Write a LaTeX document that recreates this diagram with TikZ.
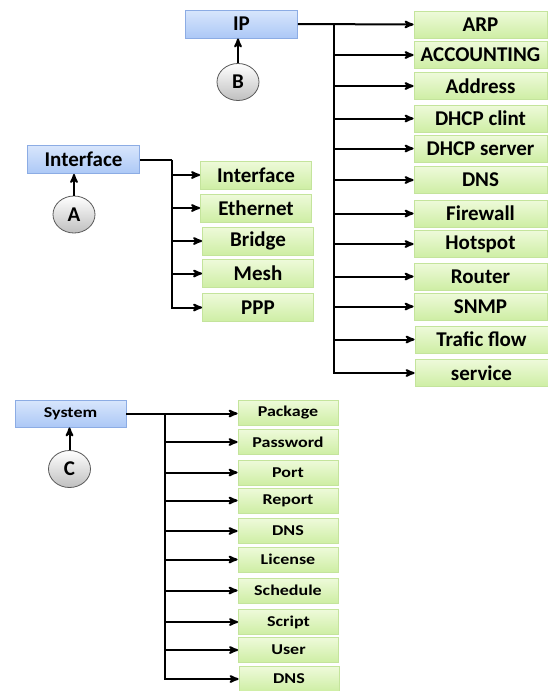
\documentclass[tikz,border=0pt]{standalone}
\usepackage{fontspec}
\setmainfont{Carlito}
\newfontfamily\widefont[FakeStretch=1.2]{Carlito}
\usepackage{tikz}
\usetikzlibrary{arrows, shapes}

\definecolor{leafTop}{RGB}{238,250,218}
\definecolor{leafBot}{RGB}{206,238,164}
\definecolor{leafLine}{RGB}{196,228,156}
\definecolor{rootTop}{RGB}{216,230,252}
\definecolor{rootBot}{RGB}{172,200,246}
\definecolor{rootLine}{RGB}{140,172,228}

\begin{document}
\begin{tikzpicture}[x=1pt, y=-1pt, >=stealth',
  root/.style={rectangle, draw=rootLine, line width=0.8pt, top color=rootTop,
    bottom color=rootBot, minimum width=112pt, minimum height=28pt, inner sep=0pt,
    font=\bfseries\fontsize{21}{21}\selectfont},
  %
  leaf/.style={rectangle, draw=leafLine, line width=0.8pt, top color=leafTop,
    bottom color=leafBot, minimum width=133pt, minimum height=27pt, inner sep=0pt,
    font=\bfseries\fontsize{21}{21}\selectfont},
  %
  midleaf/.style={leaf, minimum width=111pt, minimum height=28pt},
  %
  smallleaf/.style={leaf, minimum width=100pt, minimum height=25pt,
    font=\widefont\bfseries\fontsize{15}{15}\selectfont},
  %
  smallroot/.style={root, minimum width=111pt, minimum height=27pt,
    font=\widefont\bfseries\fontsize{15}{15}\selectfont},
  %
  tag/.style={ellipse, draw=black!65, line width=0.8pt, top color=white,
    bottom color=gray!50, minimum width=42pt, minimum height=37pt, inner sep=0pt,
    font=\bfseries\fontsize{21}{21}\selectfont},
  %
  link/.style={line width=2pt}
  ]

  \useasboundingbox (0,0) rectangle (547,691);

  \begin{scope}
    %%%%%%%%%%%%%%%%%%%%%%%%%%%%%%% IP
    \node [root] (ip) at (241.5,24) {IP};
    \node [tag] (tagB) at (238,82) {B};
    \node [leaf] (arp) at (480.5,24.5) {ARP};
    \node [leaf] (acct) at (480.5,55) {ACCOUNTING};
    \node [leaf] (addr) at (480.5,86) {Address};
    \node [leaf] (dhcpc) at (480.5,118.5) {DHCP clint};
    \node [leaf] (dhcps) at (480.5,148.5) {DHCP server};
    \node [leaf] (dnsip) at (480.5,180) {DNS};
    \node [leaf] (fw) at (480.5,213.5) {Firewall};
    \node [leaf] (hot) at (480.5,244) {Hotspot};
    \node [leaf] (rtr) at (480.5,276.5) {Router};
    \node [leaf] (snmp) at (480.5,306.5) {SNMP};
    \node [leaf] (tf) at (481.5,339.5) {Trafic flow};
    \node [leaf] (srv) at (481.5,373) {service};
    \coordinate (ipbus) at (334,24);
    %%%%%%%%%%%%%%%%%%%%%%%%%%%%%%% Interface
    \node [root] (iface) at (83.5,159.5) {Interface};
    \node [tag] (tagA) at (74,214.5) {A};
    \node [midleaf] (ifc) at (256,175) {Interface};
    \node [midleaf] (eth) at (256,208) {Ethernet};
    \node [midleaf] (brg) at (258,241) {Bridge};
    \node [midleaf] (mesh) at (258,273.5) {Mesh};
    \node [midleaf] (ppp) at (258,307.5) {PPP};
    \coordinate (ifbus) at (172,159.5);
    %%%%%%%%%%%%%%%%%%%%%%%%%%%%%%% System
    \node [smallroot] (sys) at (70.5,413.5) {System};
    \node [tag] (tagC) at (69.5,469) {C};
    \node [smallleaf] (pkg) at (288,412.5) {Package};
    \node [smallleaf] (pwd) at (288,442) {Password};
    \node [smallleaf] (port) at (288,472.5) {Port};
    \node [smallleaf] (rep) at (288,500.5) {Report};
    \node [smallleaf] (dnssys) at (288,531) {DNS};
    \node [smallleaf] (lic) at (288,559.5) {License};
    \node [smallleaf] (sch) at (288,590.5) {Schedule};
    \node [smallleaf] (scr) at (288.5,622) {Script};
    \node [smallleaf] (usr) at (288.5,650) {User};
    \node [smallleaf] (dnslast) at (289,679) {DNS};
    \coordinate (sysbus) at (165,413.5);
  \end{scope}

  \begin{scope}[link]
    % IP tree
    \draw [->] (tagB.north) -- (tagB.north |- ip.south);
    \draw [->] (ip.east) -- (arp.west);
    \draw [->] (ipbus) |- (srv.west);
    \draw [->] (ipbus |- acct.west) -- (acct.west);
    \draw [->] (ipbus |- addr.west) -- (addr.west);
    \draw [->] (ipbus |- dhcpc.west) -- (dhcpc.west);
    \draw [->] (ipbus |- dhcps.west) -- (dhcps.west);
    \draw [->] (ipbus |- dnsip.west) -- (dnsip.west);
    \draw [->] (ipbus |- fw.west) -- (fw.west);
    \draw [->] (ipbus |- hot.west) -- (hot.west);
    \draw [->] (ipbus |- rtr.west) -- (rtr.west);
    \draw [->] (ipbus |- snmp.west) -- (snmp.west);
    \draw [->] (ipbus |- tf.west) -- (tf.west);
    % Interface tree
    \draw [->] (tagA.north) -- (tagA.north |- iface.south);
    \draw (iface.east) -- (ifbus);
    \draw [->] (ifbus) |- (ppp.west);
    \draw [->] (ifbus |- ifc.west) -- (ifc.west);
    \draw [->] (ifbus |- eth.west) -- (eth.west);
    \draw [->] (ifbus |- brg.west) -- (brg.west);
    \draw [->] (ifbus |- mesh.west) -- (mesh.west);
    % System tree
    \draw [->] (tagC.north) -- (tagC.north |- sys.south);
    \draw [->] (sys.east) -- (pkg.west |- sys.east);
    \draw [->] (sysbus) |- (dnslast.west);
    \draw [->] (sysbus |- pwd.west) -- (pwd.west);
    \draw [->] (sysbus |- port.west) -- (port.west);
    \draw [->] (sysbus |- rep.west) -- (rep.west);
    \draw [->] (sysbus |- dnssys.west) -- (dnssys.west);
    \draw [->] (sysbus |- lic.west) -- (lic.west);
    \draw [->] (sysbus |- sch.west) -- (sch.west);
    \draw [->] (sysbus |- scr.west) -- (scr.west);
    \draw [->] (sysbus |- usr.west) -- (usr.west);
  \end{scope}

\end{tikzpicture}
\end{document}
